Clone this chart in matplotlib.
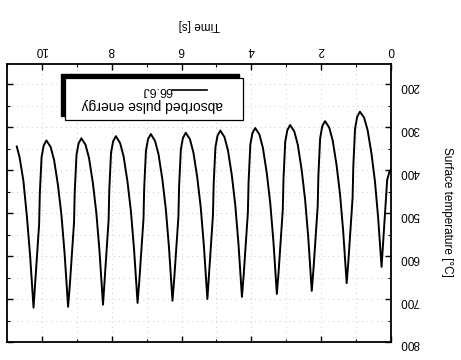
import numpy as np
import matplotlib
matplotlib.use('Agg')
import matplotlib.pyplot as plt
from matplotlib.patches import Rectangle
from matplotlib.lines import Line2D
from matplotlib.ticker import MultipleLocator

plt.rcParams['font.family'] = ['Liberation Sans', 'DejaVu Sans']

time_s = [
    0.00, 0.05, 0.11, 0.16, 0.21,
    0.27, 0.32, 0.37, 0.46, 0.56, 0.67, 0.77, 0.89, 0.97, 1.03, 1.08, 1.10, 1.17, 1.22,
    1.27, 1.32, 1.37, 1.46, 1.56, 1.67, 1.77, 1.89, 1.97, 2.03, 2.08, 2.10, 2.17, 2.22,
    2.27, 2.32, 2.37, 2.46, 2.56, 2.67, 2.77, 2.89, 2.97, 3.03, 3.08, 3.10, 3.17, 3.22,
    3.27, 3.32, 3.37, 3.46, 3.56, 3.67, 3.77, 3.89, 3.97, 4.03, 4.08, 4.10, 4.17, 4.22,
    4.27, 4.32, 4.37, 4.46, 4.56, 4.67, 4.77, 4.89, 4.97, 5.03, 5.08, 5.10, 5.17, 5.22,
    5.26, 5.31, 5.36, 5.45, 5.55, 5.66, 5.76, 5.88, 5.96, 6.02, 6.07, 6.09, 6.16, 6.21,
    6.26, 6.31, 6.36, 6.45, 6.55, 6.66, 6.76, 6.88, 6.96, 7.02, 7.07, 7.09, 7.16, 7.21,
    7.26, 7.31, 7.36, 7.45, 7.55, 7.66, 7.76, 7.88, 7.96, 8.02, 8.07, 8.09, 8.16, 8.21,
    8.25, 8.30, 8.35, 8.44, 8.54, 8.65, 8.75, 8.87, 8.95, 9.01, 9.06, 9.08, 9.15, 9.20,
    9.25, 9.30, 9.35, 9.44, 9.54, 9.65, 9.75, 9.87, 9.95, 10.01, 10.06, 10.08, 10.15, 10.20,
    10.24, 10.29, 10.34, 10.43, 10.53, 10.64, 10.72,
]
temp_c = [
    398, 405, 423, 486, 549,
    625, 567, 509, 426, 361, 307, 278, 264, 276, 304, 392, 464, 551, 611,
    663, 603, 542, 456, 388, 331, 301, 286, 298, 326, 412, 484, 570, 630,
    681, 619, 557, 469, 399, 341, 310, 295, 307, 334, 421, 492, 578, 637,
    688, 626, 564, 476, 406, 348, 317, 302, 314, 341, 428, 499, 585, 644,
    695, 633, 571, 482, 412, 354, 323, 308, 320, 347, 433, 504, 590, 649,
    700, 638, 576, 487, 417, 359, 328, 313, 325, 352, 438, 509, 595, 653,
    704, 642, 580, 491, 421, 363, 332, 316, 328, 355, 442, 513, 599, 658,
    709, 647, 585, 496, 426, 368, 337, 321, 333, 360, 446, 517, 603, 662,
    713, 651, 589, 500, 430, 372, 341, 326, 338, 365, 451, 522, 608, 667,
    718, 656, 594, 505, 435, 377, 346, 331, 343, 370, 455, 526, 611, 669,
    720, 658, 597, 508, 425, 370, 345,
]
x_ticks = [0, 2, 4, 6, 8, 10]
y_ticks = [200, 300, 400, 500, 600, 700, 800]
legend_title = 'absorbed pulse energy'
series_label = '66.6J'

fig = plt.figure(figsize=(4.61, 3.6), dpi=100)
ax = fig.add_axes([7 / 461, 18 / 360, 384 / 461, 278 / 360])

ax.plot(time_s, temp_c, color='black', lw=1.4)

# the scan is upside down: both axes reversed, labels turned 180 deg
ax.set_xlim(11, 0)
ax.set_ylim(800, 153)
ax.set_xticks(x_ticks)
ax.set_yticks(y_ticks)
ax.xaxis.set_minor_locator(MultipleLocator(1))
ax.yaxis.set_minor_locator(MultipleLocator(50))
ax.xaxis.tick_top()
ax.yaxis.tick_right()
ax.tick_params(which='both', top=True, bottom=True, left=True, right=True,
               direction='in', color='black')
ax.tick_params(which='major', length=4, width=1)
ax.tick_params(which='minor', length=2.5, width=0.8)
ax.tick_params(axis='x', labelsize=8.5, pad=6, labelrotation=180)
ax.tick_params(axis='y', labelsize=8.5, pad=6, labelrotation=180)

ax.grid(which='both', color='#999999', lw=0.5, linestyle=(0, (1, 6)))
for s in ax.spines.values():
    s.set_linewidth(1.3)

fig.text(199 / 461, 1 - 25 / 360, 'Time [s]', rotation=180,
         ha='center', va='center', fontsize=8.5)
fig.text(447 / 461, 1 - 212 / 360, 'Surface temperature [°C]', rotation=-90,
         ha='center', va='center', fontsize=8.5)

# hand drawn legend box with shadow (shadow sits top-left because of the flip)
ax.add_patch(Rectangle((0.141, 0.814), 0.463, 0.151, transform=ax.transAxes,
                       facecolor='black', edgecolor='black', zorder=5))
ax.add_patch(Rectangle((0.151, 0.80), 0.464, 0.151, transform=ax.transAxes,
                       facecolor='white', edgecolor='black', lw=0.9, zorder=6))
ax.text(0.378, 0.852, legend_title, transform=ax.transAxes, rotation=180,
        rotation_mode='anchor', ha='center', va='center', fontsize=10, zorder=7)
ax.text(0.391, 0.907, series_label, transform=ax.transAxes, rotation=180,
        rotation_mode='anchor', ha='center', va='center', fontsize=9, zorder=7)
ax.add_line(Line2D([0.43, 0.521], [0.907, 0.907], transform=ax.transAxes,
                   color='black', lw=1.2, zorder=7))

fig.savefig('out.png', dpi=100)
